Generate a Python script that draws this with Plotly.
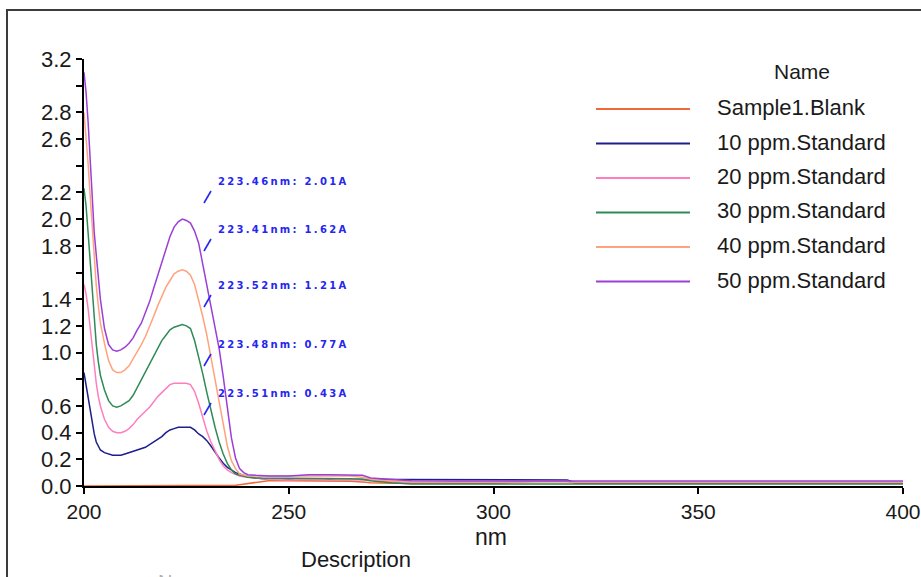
import plotly.graph_objects as go

# ---------------- data ----------------
wavelength = [200, 200.5, 201, 201.5, 202, 202.5, 203, 203.5, 204,
              205, 206, 207, 208, 209, 210, 211, 212, 213, 214, 215, 216, 217, 218, 219, 220,
              221, 222, 223, 224, 225, 226, 227, 228, 229, 230, 231, 232, 233, 234, 235, 236,
              237, 238, 239, 240,
              242, 245, 250, 255, 260, 265, 268, 270, 275, 280, 290, 300, 310, 318, 320,
              330, 340, 350, 360, 370, 380, 390, 400]

series_names = ["Sample1.Blank", "10 ppm.Standard", "20 ppm.Standard",
                "30 ppm.Standard", "40 ppm.Standard", "50 ppm.Standard"]

blank = [0.0, 0.0, 0.0, 0.0, 0.0, 0.0, 0.0, 0.0, 0.0,
         0.0, 0.0, 0.0, 0.0, 0.0, 0.0, 0.0, 0.0, 0.0, 0.0, 0.0, 0.0, 0.0, 0.0, 0.0, 0.0,
         0.0, 0.0, 0.0, 0.0, 0.0, 0.0, 0.0, 0.0, 0.0, 0.0, 0.0, 0.0, 0.0, 0.0, 0.0, 0.0,
         0.005, 0.01, 0.015, 0.02,
         0.03, 0.04, 0.04, 0.04, 0.04, 0.035, 0.03, 0.025, 0.02, 0.02, 0.02, 0.02, 0.035, 0.035, 0.02,
         0.02, 0.02, 0.02, 0.02, 0.02, 0.02, 0.02, 0.02]

ppm10 = [0.85, 0.76, 0.65, 0.55, 0.46, 0.39, 0.33, 0.30, 0.27,
         0.25, 0.24, 0.23, 0.23, 0.23, 0.24, 0.25, 0.26, 0.27, 0.28, 0.29, 0.31, 0.33, 0.35, 0.37, 0.40,
         0.42, 0.43, 0.44, 0.44, 0.44, 0.44, 0.42, 0.39, 0.37, 0.34, 0.30, 0.25, 0.21, 0.17, 0.14, 0.12,
         0.10, 0.09, 0.08, 0.07,
         0.06, 0.05, 0.05, 0.05, 0.05, 0.05, 0.05, 0.045, 0.045, 0.045, 0.045, 0.045, 0.045, 0.045, 0.025,
         0.025, 0.025, 0.025, 0.025, 0.025, 0.025, 0.025, 0.025]

ppm20 = [1.51, 1.44, 1.33, 1.18, 1.02, 0.89, 0.77, 0.67, 0.60,
         0.50, 0.44, 0.41, 0.40, 0.40, 0.41, 0.43, 0.46, 0.50, 0.53, 0.56, 0.59, 0.63, 0.67, 0.70, 0.73,
         0.76, 0.77, 0.77, 0.77, 0.77, 0.76, 0.71, 0.62, 0.51, 0.41, 0.33, 0.26, 0.20, 0.15, 0.12, 0.10,
         0.085, 0.075, 0.07, 0.065,
         0.06, 0.05, 0.045, 0.05, 0.045, 0.05, 0.045, 0.04, 0.03, 0.025, 0.025, 0.025, 0.035, 0.035, 0.025,
         0.025, 0.025, 0.025, 0.025, 0.025, 0.025, 0.025, 0.025]

ppm30 = [2.23, 2.10, 1.90, 1.68, 1.43, 1.22, 1.06, 0.93, 0.83,
         0.72, 0.64, 0.60, 0.59, 0.60, 0.62, 0.64, 0.68, 0.74, 0.79, 0.85, 0.91, 0.97, 1.03, 1.09, 1.13,
         1.17, 1.19, 1.20, 1.21, 1.20, 1.18, 1.09, 0.97, 0.84, 0.70, 0.56, 0.44, 0.33, 0.24, 0.17, 0.12,
         0.09, 0.08, 0.07, 0.065,
         0.06, 0.06, 0.055, 0.06, 0.06, 0.055, 0.05, 0.04, 0.025, 0.015, 0.015, 0.015, 0.015, 0.015, 0.015,
         0.015, 0.015, 0.015, 0.015, 0.015, 0.015, 0.015, 0.015]

ppm40 = [2.80, 2.62, 2.42, 2.18, 1.93, 1.70, 1.50, 1.35, 1.22,
         1.07, 0.94, 0.87, 0.85, 0.85, 0.87, 0.90, 0.95, 1.00, 1.06, 1.12, 1.19, 1.27, 1.35, 1.42, 1.49,
         1.54, 1.59, 1.61, 1.62, 1.61, 1.58, 1.51, 1.40, 1.27, 1.13, 0.97, 0.81, 0.63, 0.46, 0.30, 0.19,
         0.13, 0.09, 0.08, 0.075,
         0.075, 0.075, 0.075, 0.075, 0.075, 0.075, 0.065, 0.05, 0.04, 0.03, 0.03, 0.03, 0.03, 0.03, 0.03,
         0.03, 0.03, 0.03, 0.03, 0.03, 0.03, 0.03, 0.03]

ppm50 = [3.10, 2.95, 2.73, 2.42, 2.13, 1.90, 1.73, 1.57, 1.40,
         1.18, 1.06, 1.02, 1.01, 1.02, 1.04, 1.07, 1.11, 1.17, 1.22, 1.30, 1.38, 1.48, 1.58, 1.68, 1.78,
         1.87, 1.94, 1.98, 2.00, 1.99, 1.97, 1.91, 1.82, 1.66, 1.51, 1.37, 1.21, 1.03, 0.82, 0.58, 0.36,
         0.21, 0.13, 0.10, 0.085,
         0.08, 0.075, 0.075, 0.085, 0.085, 0.085, 0.08, 0.06, 0.05, 0.04, 0.037, 0.037, 0.037, 0.037, 0.037,
         0.037, 0.037, 0.037, 0.037, 0.037, 0.037, 0.037, 0.037]

series_values = [blank, ppm10, ppm20, ppm30, ppm40, ppm50]

# peak labels (top to bottom: 50, 40, 30, 20, 10 ppm)
peak_nm = [223.46, 223.41, 223.52, 223.48, 223.51]
peak_abs = [2.01, 1.62, 1.21, 0.77, 0.43]

x_ticks = [200, 250, 300, 350, 400]
y_ticks = [0.0, 0.2, 0.4, 0.6, 0.8, 1.0, 1.2, 1.4, 1.6, 1.8, 2.0, 2.2, 2.4, 2.6, 2.8, 3.0, 3.2]
y_tick_text = ["0.0", "0.2", "0.4", "0.6", "", "1.0", "1.2", "1.4", "", "1.8", "2.0", "2.2", "",
               "2.6", "2.8", "", "3.2"]

# ---------------- styling ----------------
colors = ["#F2683A", "#1E1E8C", "#FF7EBE", "#2E8B57", "#FFA37E", "#9B3FD8"]
W, H = 921, 577
L, R, T, B = 84, 18, 59, 91
PW, PH = W - L - R, H - T - B
X0, X1, Y0, Y1 = 200, 400, 0, 3.2


def px_to_paper_x(px):
    return (px - L) / PW


def px_to_paper_y(py):
    return (H - B - py) / PH


def px_to_data_x(px):
    return X0 + (px - L) / PW * (X1 - X0)


def px_to_data_y(py):
    return Y0 + (H - B - py) / PH * (Y1 - Y0)


fig = go.Figure()
for name, vals, col in zip(series_names, series_values, colors):
    fig.add_trace(go.Scatter(x=wavelength, y=vals, mode="lines", name=name,
                             line=dict(color=col, width=1.5), showlegend=False))

font_main = "Liberation Sans, Arial, sans-serif"
text_col = "#1a1a1a"
shapes = []
annotations = []

# outer frame
shapes.append(dict(type="rect", xref="paper", yref="paper",
                   x0=px_to_paper_x(7), x1=px_to_paper_x(940),
                   y0=px_to_paper_y(610), y1=px_to_paper_y(10),
                   line=dict(color="#3c3c3c", width=2), fillcolor="rgba(0,0,0,0)", layer="below"))

# peak labels with slash pointers
label_y_px = [181, 229, 285, 344, 393]
for nm, a, ly in zip(peak_nm, peak_abs, label_y_px):
    txt = f"{nm:.2f}nm: {a:.2f}A"
    annotations.append(dict(
        x=px_to_data_x(216), y=px_to_data_y(ly), xref="x", yref="y",
        text=f'<span style="letter-spacing:2.3px"><b>{txt}</b></span>',
        showarrow=False, xanchor="left", yanchor="middle",
        font=dict(family="DejaVu Sans, Verdana, sans-serif", size=10, color="#2626EE")))
    shapes.append(dict(type="line", xref="x", yref="y",
                       x0=px_to_data_x(204), y0=px_to_data_y(ly + 22),
                       x1=px_to_data_x(211), y1=px_to_data_y(ly + 10),
                       line=dict(color="#2626EE", width=1.6)))

# legend (drawn manually to match the long key lines)
annotations.append(dict(x=px_to_paper_x(802), y=px_to_paper_y(71), xref="paper", yref="paper",
                        text="Name", showarrow=False, xanchor="center", yanchor="middle",
                        font=dict(family=font_main, size=21, color=text_col)))
legend_y_px = [107.5, 142, 176.5, 211, 245.5, 280]
for name, col, ly in zip(series_names, colors, legend_y_px):
    shapes.append(dict(type="line", xref="paper", yref="paper",
                       x0=px_to_paper_x(596), x1=px_to_paper_x(690),
                       y0=px_to_paper_y(ly + 1.5), y1=px_to_paper_y(ly + 1.5),
                       line=dict(color=col, width=2)))
    annotations.append(dict(x=px_to_paper_x(715), y=px_to_paper_y(ly), xref="paper", yref="paper",
                            text=name, showarrow=False, xanchor="left", yanchor="middle",
                            font=dict(family=font_main, size=22, color=text_col)))

# axis title and bottom texts
annotations.append(dict(x=px_to_paper_x(491), y=px_to_paper_y(537), xref="paper", yref="paper",
                        text="nm", showarrow=False, xanchor="center", yanchor="middle",
                        font=dict(family=font_main, size=23, color=text_col)))
annotations.append(dict(x=px_to_paper_x(356), y=px_to_paper_y(559), xref="paper", yref="paper",
                        text="Description", showarrow=False, xanchor="center", yanchor="middle",
                        font=dict(family=font_main, size=22, color=text_col)))
annotations.append(dict(x=px_to_paper_x(184), y=px_to_paper_y(582), xref="paper", yref="paper",
                        text="Name", showarrow=False, xanchor="center", yanchor="middle",
                        font=dict(family=font_main, size=20, color="#b0b0b0")))

fig.update_layout(
    width=W, height=H,
    margin=dict(l=L, r=R, t=T, b=B, pad=0, autoexpand=False),
    paper_bgcolor="white", plot_bgcolor="white",
    showlegend=False,
    shapes=shapes, annotations=annotations,
    font=dict(family=font_main, color=text_col),
    xaxis=dict(range=[X0, X1], tickvals=x_ticks, ticktext=[str(t) for t in x_ticks],
               showgrid=False, zeroline=False, showline=True, linecolor="#000", linewidth=2,
               ticks="outside", ticklen=6, tickwidth=2, tickcolor="#000", automargin=False,
               tickfont=dict(size=21, family=font_main, color=text_col)),
    yaxis=dict(range=[Y0, Y1], tickvals=y_ticks, ticktext=y_tick_text, automargin=False,
               showgrid=False, zeroline=False, showline=True, linecolor="#000", linewidth=2,
               ticks="outside", ticklen=6, tickwidth=2, tickcolor="#000",
               tickfont=dict(size=22, family=font_main, color=text_col)),
)

fig.write_html("out.html")
